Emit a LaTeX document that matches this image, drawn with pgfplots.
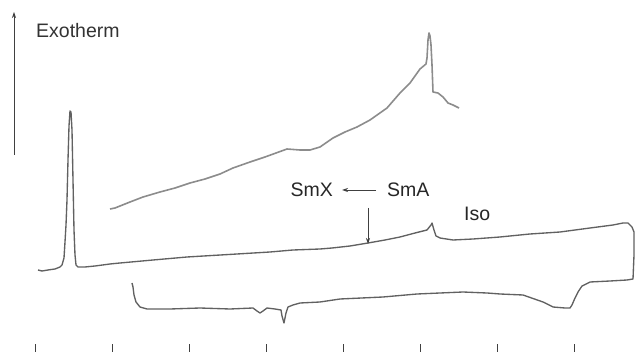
\documentclass[border=0pt]{standalone}
\usepackage{fontspec}
\setmainfont{Liberation Sans}
\usepackage{pgfplots}
\pgfplotsset{compat=1.18}
\usetikzlibrary{arrows.meta}
\begin{document}
\fontsize{19.5bp}{23bp}\selectfont
\begin{tikzpicture}
\begin{axis}[
  width=641bp, height=352bp, scale only axis,
  xmin=0, xmax=641, ymin=-352, ymax=0,
  axis y line=none, axis x line=bottom,
  x axis line style={draw=none},
  xtick={35,112,189,266,343,420,497,574},
  xticklabels={},
  tick align=inside, major tick length=7.5bp,
  xtick style={black!75, line width=0.8pt},
  clip=false,
]
% heating + cooling loop (DSC trace)
\addplot[color=black!62, line width=1.35pt, line join=round] coordinates {
(38,-270) (42,-271) (48,-270) (55,-269) (60,-267) (62,-265) (64,-258) (65,-242)
(66,-225) (67,-200) (68,-160) (69,-126) (70,-111) (71,-112) (72,-130) (73,-180)
(74,-230) (75,-255) (76,-265) (78,-267) (85,-267) (95,-266) (110,-264) (120,-263)
(153,-260) (187,-257) (237,-254) (270,-252) (293,-250) (320,-249) (332,-248)
(350,-246) (368,-243) (385,-240) (400,-237) (415,-233) (427,-230) (431,-225)
(432,-223) (434,-230) (436,-236) (440,-238) (453,-240) (473,-239) (500,-237)
(530,-234) (560,-232) (590,-228) (613,-225) (623,-223) (628,-223) (632,-227)
(634,-232) (634,-255) (633,-279) (627,-280) (610,-281) (590,-282) (582,-286)
(578,-292) (575,-298) (572,-305) (570,-308) (565,-308) (553,-307) (543,-302)
(523,-295) (500,-294) (487,-293) (463,-292) (440,-293) (417,-294) (383,-297)
(340,-299) (320,-302) (300,-303) (293,-305) (288,-307) (286,-313) (284,-323)
(282,-316) (281,-310) (275,-309) (267,-308) (263,-311) (260,-313) (257,-311)
(253,-308) (230,-309) (200,-308) (170,-309) (150,-309) (147,-309) (140,-307)
(136,-302) (134,-295) (133,-287) (132,-283)
};
% upper trace
\addplot[color=black!45, line width=1.6pt, line join=round] coordinates {
(110,-209) (115,-208) (120,-206) (130,-202) (143,-197) (160,-192) (175,-188)
(190,-183) (205,-179) (220,-174) (233,-168) (250,-162) (265,-157) (287,-149)
(300,-150) (310,-150) (320,-147) (333,-138) (345,-132) (357,-127) (370,-120)
(387,-108) (400,-93) (410,-83) (420,-69) (426,-64) (427,-58) (428,-40) (429,-33)
(430,-36) (431,-45) (432,-65) (433,-92) (438,-93) (443,-97) (448,-103)
(453,-105) (459,-108)
};
% annotations
\draw[black!75, line width=0.8pt, -{Stealth[length=6bp,width=4bp]}] (axis cs:14,-155) -- (axis cs:14,-12);
\node[anchor=west, inner sep=0pt, black!80] at (axis cs:36,-31) {Exotherm};
\node[anchor=east, inner sep=0pt, black!85] at (axis cs:333,-190) {SmX};
\node[anchor=west, inner sep=0pt, black!85] at (axis cs:387,-190) {SmA};
\node[anchor=west, inner sep=0pt, black!85] at (axis cs:464,-214) {Iso};
\draw[black!75, line width=0.8pt, -{Stealth[length=6bp,width=4bp]}] (axis cs:376,-190) -- (axis cs:342,-190);
\draw[black!75, line width=0.8pt, -{Stealth[length=6bp,width=4bp]}] (axis cs:368,-208) -- (axis cs:368,-244);
\end{axis}
\pgfresetboundingbox
\path (current axis.south west) rectangle (current axis.north east);
\end{tikzpicture}
\end{document}
